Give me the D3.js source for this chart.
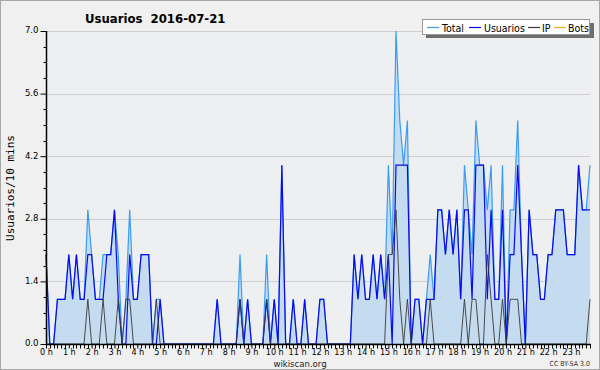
<!DOCTYPE html>
<html><head><meta charset="utf-8">
<script src="https://cdn.jsdelivr.net/npm/d3@7/dist/d3.min.js"></script>
<style>
html,body{margin:0;padding:0;background:#f0f0f0;}
svg{display:block;}
</style></head><body>
<svg id="c" width="600" height="370"></svg>
<script>
// 10-minute slots, 6 per hour
const hourLabels = ["0 h","1 h","2 h","3 h","4 h","5 h","6 h","7 h","8 h","9 h","10 h","11 h",
  "12 h","13 h","14 h","15 h","16 h","17 h","18 h","19 h","20 h","21 h","22 h","23 h"];
const yTicks = [0, 1.4, 2.8, 4.2, 5.6, 7.0];
const seriesNames = ["Total", "Usuarios", "IP", "Bots"];

const total = [
  2,0,0,1,1,1,  2,1,2,1,1,3,  2,1,1,2,2,2,  3,2,0,1,3,1,
  1,2,2,2,0,1,  1,0,0,0,0,0,  0,0,0,0,0,0,  0,0,0,1,0,0,
  0,0,0,2,0,1,  0,0,0,0,2,0,  1,0,4,0,0,1,  0,0,1,0,0,0,
  1,1,0,0,0,0,  0,0,0,2,1,2,  1,1,2,1,2,1,  4,2,7,5,4,5,
  0,1,1,0,1,2,  1,3,3,2,3,2,  3,1,4,3,2,5,  4,4,3,4,1,1,
  4,0,3,3,5,2,  0,3,2,2,1,1,  2,2,3,3,3,2,  2,2,4,3,3,4];
const usuarios = [
  2,0,0,1,1,1,  2,1,2,1,1,2,  2,1,1,1,2,2,  3,1,0,0,2,1,
  1,2,2,2,0,0,  1,0,0,0,0,0,  0,0,0,0,0,0,  0,0,0,1,0,0,
  0,0,0,1,0,1,  0,0,0,0,1,0,  1,0,4,0,0,1,  0,0,1,0,0,0,
  1,1,0,0,0,0,  0,0,0,2,1,2,  1,1,2,1,2,1,  2,0,4,4,4,4,
  0,1,1,0,1,1,  1,3,3,2,3,2,  3,1,3,3,1,4,  4,4,1,3,1,1,
  3,0,2,2,4,2,  0,3,2,2,1,1,  2,2,3,3,3,2,  2,2,4,3,3,3];
const ip = [
  0,0,0,0,0,0,  0,0,0,0,0,1,  0,0,0,1,0,0,  0,1,0,1,1,0,
  0,0,0,0,0,1,  0,0,0,0,0,0,  0,0,0,0,0,0,  0,0,0,0,0,0,
  0,0,0,1,0,0,  0,0,0,0,1,0,  0,0,0,0,0,0,  0,0,0,0,0,0,
  0,0,0,0,0,0,  0,0,0,0,0,0,  0,0,0,0,0,0,  2,2,3,1,0,1,
  0,0,0,0,0,1,  0,0,0,0,0,0,  0,0,1,0,1,1,  0,0,2,1,0,0,
  1,0,1,1,1,0,  0,0,0,0,0,0,  0,0,0,0,0,0,  0,0,0,0,0,1];
const bots = new Array(144).fill(0);

const colors = {Total:"#3b9cf5", Usuarios:"#0a0af0", IP:"#3a3a3a", Bots:"#ffa31a"};
const FONT = "'DejaVu Sans Condensed','DejaVu Sans',sans-serif";

const W = 600, H = 370;
const L = 46, R = 590, T = 31, B = 344;
const svg = d3.select("#c");

svg.append("rect").attr("x",0.5).attr("y",0.5).attr("width",W-1).attr("height",H-1)
  .attr("fill","#f0f0f0").attr("stroke","#a8a8a8");

const x = d3.scaleLinear().domain([0, 143]).range([L, R]);
const y = d3.scaleLinear().domain([0, 7]).range([B, T]);

svg.append("rect").attr("x",L).attr("y",T).attr("width",R-L).attr("height",B-T).attr("fill","#eeeff1");

svg.append("g").selectAll("line").data(yTicks.slice(1)).join("line")
  .attr("x1",L).attr("x2",R).attr("y1",d=>Math.round(y(d))+0.5).attr("y2",d=>Math.round(y(d))+0.5)
  .attr("stroke","#cfcfd1").attr("stroke-width",1);

const idx = d3.range(144);
const area = d3.area().x(i=>x(i)).y0(y(0)).y1(i=>y(total[i]));
svg.append("path").datum(idx).attr("d",area).attr("fill","#c5dcf0");

const mkLine = arr => d3.line().x(i=>x(i)).y(i=>y(arr[i]));
svg.append("path").datum(idx).attr("d",mkLine(total)).attr("fill","none").attr("stroke",colors.Total).attr("stroke-width",1.2);
svg.append("path").datum(idx).attr("d",mkLine(usuarios)).attr("fill","none").attr("stroke",colors.Usuarios).attr("stroke-width",1.2);
svg.append("path").datum(idx).attr("d",mkLine(ip)).attr("fill","none").attr("stroke",colors.IP).attr("stroke-width",1).attr("stroke-opacity",0.9);

// y axis
const yAxis = d3.axisLeft(y).tickValues(yTicks).tickFormat(d3.format(".1f")).tickSize(6).tickPadding(2);
const gy = svg.append("g").attr("transform",`translate(${L+0.5},0)`).call(yAxis);
const yMinor = d3.range(0, 7.01, 0.35).filter(v => !yTicks.some(t => Math.abs(t-v)<1e-6));
gy.append("g").selectAll("line").data(yMinor).join("line")
  .attr("x1",-3).attr("x2",0).attr("y1",d=>Math.round(y(d))+0.5).attr("y2",d=>Math.round(y(d))+0.5).attr("stroke","#000");
gy.select(".domain").attr("stroke","#000").attr("stroke-width",1.5).attr("d",`M0,${T}V${B+1}`);
gy.selectAll(".tick line").attr("stroke","#000");
gy.selectAll(".tick text").attr("font-family",FONT).attr("font-size",9.5).attr("fill","#000").attr("dy","0.2em");

// x axis
const xAxis = d3.axisBottom(x).tickValues(d3.range(0,144,6)).tickFormat((d,i)=>hourLabels[i]).tickSize(4).tickPadding(0);
const gx = svg.append("g").attr("transform",`translate(0,${B+0.5})`).call(xAxis);
gx.select(".domain").attr("stroke","#000").attr("stroke-width",1.5).attr("d",`M${L},0H${R+1}`);
gx.selectAll(".tick line").attr("stroke","#000");
gx.append("g").selectAll("line").data(idx.filter(i=>i%6!==0)).join("line")
  .attr("x1",i=>Math.round(x(i))+0.5).attr("x2",i=>Math.round(x(i))+0.5).attr("y1",0).attr("y2",4).attr("stroke","#000");
gx.selectAll(".tick text").attr("font-family",FONT).attr("font-size",9).attr("fill","#000");

// title
svg.append("text").attr("x",85).attr("y",23).attr("font-family",FONT)
  .attr("font-weight","bold").attr("font-size",13).attr("fill","#000").attr("xml:space","preserve").text("Usuarios  2016-07-21");

// y label
svg.append("text").attr("transform","translate(14,188) rotate(-90)").attr("text-anchor","middle")
  .attr("font-family","'DejaVu Sans Mono',monospace").attr("font-size",11).attr("fill","#000").text("Usuarios/10 mins");

// footer
svg.append("text").attr("x",300).attr("y",367).attr("text-anchor","middle")
  .attr("font-family",FONT).attr("font-size",9.5).attr("fill","#222").text("wikiscan.org");
svg.append("text").attr("x",590).attr("y",366).attr("text-anchor","end")
  .attr("font-family",FONT).attr("font-size",7).attr("fill","#333").text("CC BY-SA 3.0");

// legend
const lg = svg.append("g");
lg.append("rect").attr("x",426).attr("y",23).attr("width",168).attr("height",15).attr("fill","#6e6e6e");
lg.append("rect").attr("x",422.5).attr("y",19.5).attr("width",167).attr("height",15).attr("fill","#fff").attr("stroke","#9a9a9a");
const legendItems = [
  {name:seriesNames[0], lx:427, tx:442},
  {name:seriesNames[1], lx:469, tx:484},
  {name:seriesNames[2], lx:528, tx:542},
  {name:seriesNames[3], lx:554, tx:568}];
legendItems.forEach(it=>{
  lg.append("line").attr("x1",it.lx).attr("x2",it.lx+12).attr("y1",27.5).attr("y2",27.5).attr("stroke",colors[it.name]).attr("stroke-width",1.2);
  lg.append("text").attr("x",it.tx).attr("y",31.5).attr("font-family",FONT)
    .attr("font-size",10.5).attr("fill","#000").text(it.name);
});
</script>
</body></html>
